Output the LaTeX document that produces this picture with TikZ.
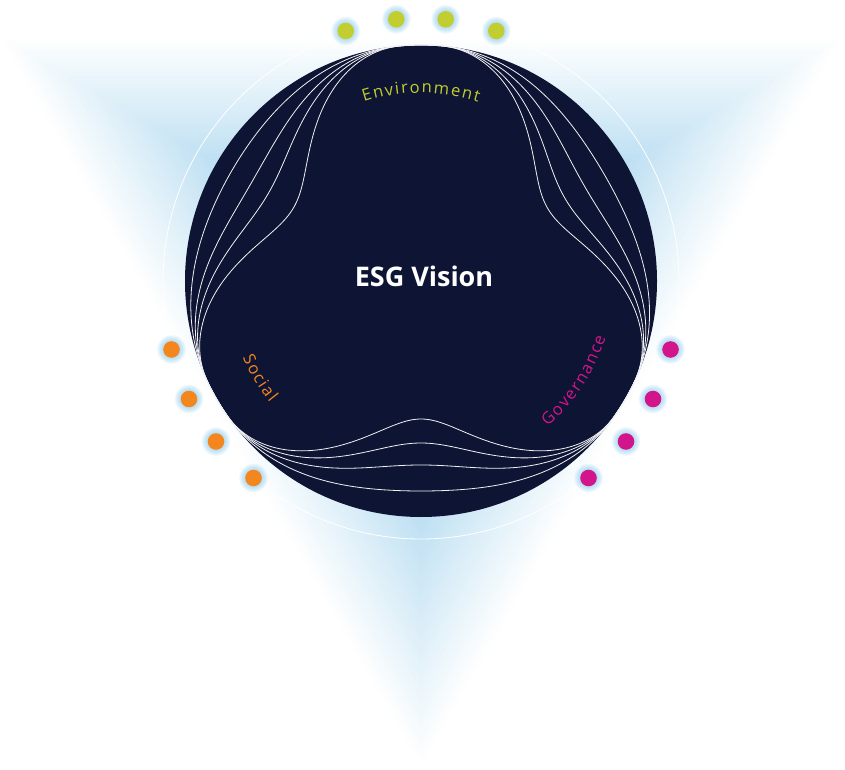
\documentclass[tikz,border=0pt]{standalone}
\usepackage{fontspec}
\setmainfont{Open Sans}
\newfontfamily\lblfont{Open Sans}
\definecolor{navy}{HTML}{0E1433}
\definecolor{envgreen}{HTML}{C2CD2F}
\definecolor{socorange}{HTML}{F4861F}
\definecolor{govpink}{HTML}{D3158C}
\definecolor{glowblue}{HTML}{BCDFF2}
\definecolor{haloblue}{HTML}{7CC6EE}
\newcommand\trk{1.7}
% #1 name prefix, #2 letters, #3 radius, #4 centre angle, #5 +1 clockwise (tops out) / -1 anticlockwise (tops in), #6 colour
\newcommand\arctext[6]{%
  \lblfont\fontsize{16.5}{19}\selectfont
  \xdef\tot{0}%
  \foreach \ch in {#2} {\pgfmathsetmacro\ww{width("\ch")}\pgfmathsetmacro\nt{\tot+\ww+\trk}\xdef\tot{\nt}}%
  \pgfmathsetmacro\nt{\tot-\trk}\xdef\tot{\nt}%
  \xdef\cum{0}%
  \foreach \ch [count=\ci] in {#2} {%
    \pgfmathsetmacro\ww{width("\ch")}%
    \pgfmathsetmacro\ang{#4+#5*(\tot/2-\cum-\ww/2)/#3*57.29578}%
    \pgfmathsetmacro\rot{\ang-#5*90}%
    \node[anchor=base, rotate=\rot, text=#6, inner sep=0pt, font=\lblfont\fontsize{16.5}{19}\selectfont] (#1\ci) at (\ang:#3) {\ch};
    \pgfmathsetmacro\nc{\cum+\ww+\trk}\xdef\cum{\nc}%
  }%
}
\begin{document}
\begin{tikzpicture}[x=1pt,y=1pt,
  declare function={
    dl(\vt,\vc)=mod(\vt-\vc+900,360)-180;
    bp(\vt,\vc,\vw)=(abs(dl(\vt,\vc))<\vw)*(0.5+0.5*cos(dl(\vt,\vc)/\vw*180));
    rr(\vt,\ua,\ub,\ud)=236-\ua*bp(\vt,30,55)-\ub*bp(\vt,150,55)-\ud*bp(\vt,270,55);
  },
  wave/.style={draw=white!94!navy, line width=0.8pt, line join=round},
  dotnode/.style={circle, inner sep=0pt, minimum size=16.6pt},
]
\useasboundingbox (0,0) rectangle (845,769);
\fill[white] (0,0) rectangle (845,769);
\begin{scope}[shift={(421,488)}]
  % glow: nested equilateral triangles
  \foreach \i in {0,...,54} {
    \pgfmathsetmacro\s{1-\i/100}
    \pgfmathsetmacro\p{min(100,100*\i/52)}
    \fill[glowblue!\p!white] (150:{488*\s}) -- (30:{488*\s}) -- (270:{488*\s}) -- cycle;
  }
  % outer ring
  \draw[white, line width=0.8pt] (0,0) circle (258);
  % main disc
  \fill[navy] (0,0) circle (236);
  % wavy lines
  \draw[wave] plot[domain=0:360, samples=361, variable=\t] ({\t}:{rr(\t,90,89,98)}) -- cycle;
  \draw[wave] plot[domain=0:360, samples=361, variable=\t] ({\t}:{rr(\t,70,60,74)}) -- cycle;
  \draw[wave] plot[domain=0:360, samples=361, variable=\t] ({\t}:{rr(\t,47,40,52)}) -- cycle;
  \draw[wave] plot[domain=0:360, samples=361, variable=\t] ({\t}:{rr(\t,24,17,26)}) -- cycle;
  % title
  \node[text=white, font=\bfseries\fontsize{27}{30}\selectfont] (title) at (3,5) {ESG Vision};
  % curved labels
  \arctext{env}{E,n,v,i,r,o,n,m,e,n,t}{188}{90}{1}{envgreen}
  \arctext{soc}{S,o,c,i,a,l}{194}{211}{-1}{socorange}
  \arctext{gov}{G,o,v,e,r,n,a,n,c,e}{193}{327}{-1}{govpink}
  % dots with halo
  \foreach \n/\x/\y/\c in {e1/-75.3/250/envgreen, e2/-24.7/261.7/envgreen, e3/24.7/261.7/envgreen, e4/75.3/250/envgreen,
      s1/-249.5/-68.5/socorange, s2/-232/-118/socorange, s3/-205/-160.5/socorange, s4/-167.5/-197/socorange,
      g1/249.5/-68.5/govpink, g2/232/-118/govpink, g3/205/-160.5/govpink, g4/167.5/-197/govpink} {
    \foreach \k in {1,...,6} {
      \fill[haloblue, opacity=0.11] (\x,\y) circle ({8.3+\k});
    }
    \node[dotnode, fill=\c] (\n) at (\x,\y) {};
  }
\end{scope}
\end{tikzpicture}
\end{document}
